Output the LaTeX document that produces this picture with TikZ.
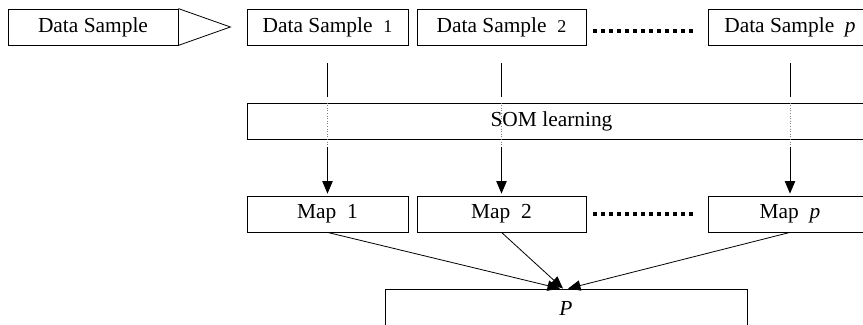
\documentclass[tikz,border=0pt]{standalone}
\usepackage{fontspec}
\setmainfont{Liberation Serif}
\usetikzlibrary{arrows, calc, positioning}
\tikzstyle{box} = [rectangle, draw=black, inner sep=0pt, minimum height=18pt, text centered]
\tikzstyle{arrow} = [->, >=triangle 45]
\tikzstyle{dots} = [line width=2pt, dash pattern=on 2pt off 2pt]
\tikzstyle{guide} = [densely dotted, gray, line width=0.3pt]
\newcommand{\idx}[1]{{\fontsize{9}{10}\selectfont #1}}

\begin{document}
\begin{tikzpicture}[x=0.5pt, y=-0.5pt, font=\fontsize{10.7}{12}\selectfont]
	% page frame
	\useasboundingbox (0,0) rectangle (863,325);

	% set up sample nodes
	\node (in) [box, minimum width=85pt] at (93,27) {Data Sample};
	\node (ds1) [box, minimum width=80.5pt] at (327.5,27) {Data Sample~~\idx{1}};
	\node (ds2) [box, minimum width=84.5pt] at (501.5,27) {Data Sample~~\idx{2}};
	\node (dsp) [box, minimum width=82pt] at (790,27) {Data Sample~~\textit{p}};

	\node (som) [box, minimum width=312.5pt] at (559.5,121) {SOM learning\hspace*{8pt}};

	% set up map nodes
	\node (m1) [box, minimum width=80.5pt] at (327.5,214) {Map~~1};
	\node (m2) [box, minimum width=84.5pt] at (501.5,214) {Map~~2};
	\node (mp) [box, minimum width=82pt] at (790,214) {Map~~\textit{p}};

	\node (P) [box, minimum width=181pt, minimum height=19pt] at (566,308) {\textit{P}};

	% split arrow
	\draw (in.north east) -- ($(in.east)+(52,0)$) -- (in.south east);

	% dots between boxes
	\draw[dots, shorten <=3.5pt, shorten >=5.5pt] ([yshift=-2pt]ds2.east) -- ([yshift=-2pt]dsp.west);
	\draw[dots, shorten <=3.5pt, shorten >=5.5pt] (m2.east) -- (mp.west);

	% samples through learning
	\foreach \s/\m in {ds1/m1, ds2/m2, dsp/mp} {
		\draw[shorten <=9pt, shorten >=3pt] (\s.south) -- (\s.south |- som.north);
		\draw[guide] (\s.south |- som.north) -- ($(\s.south |- som.south)+(0,8)$);
		\draw[arrow, shorten <=4pt, shorten >=1pt] (\s.south |- som.south) -- (\m.north);
	}

	% maps into P
	\draw[arrow] (m1.south) -- ([xshift=-3pt]P.north);
	\draw[arrow] (m2.south) -- ([xshift=-1.5pt]P.north);
	\draw[arrow] (mp.south) -- ([xshift=1pt]P.north);

\end{tikzpicture}
\end{document}
